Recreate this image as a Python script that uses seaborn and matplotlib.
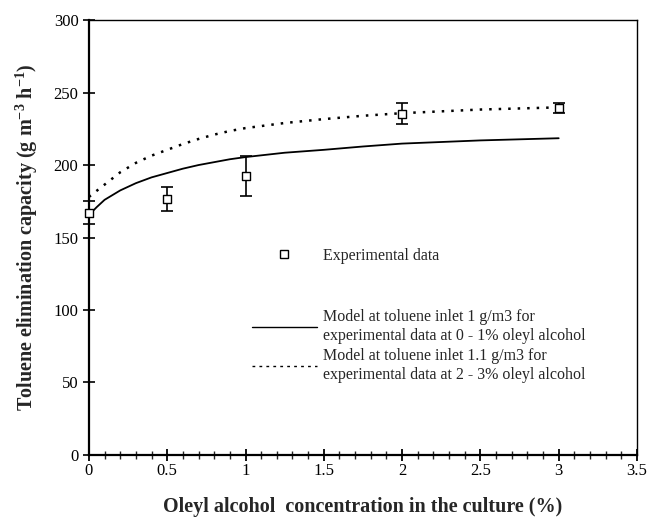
import numpy as np
import pandas as pd
import matplotlib
matplotlib.use("Agg")
import matplotlib.pyplot as plt
from matplotlib.lines import Line2D
import seaborn as sns

# Experimental points with standard deviations
exp_conc = [0.0, 0.5, 1.0, 2.0, 3.0]
exp_capacity = [167.0, 176.5, 192.5, 235.5, 239.5]
exp_err = [8.0, 8.5, 14.0, 7.5, 3.5]

# Model curve, toluene inlet 1 g/m3
model1_conc = [0.0, 0.05, 0.1, 0.2, 0.3, 0.4, 0.5, 0.6, 0.7, 0.8, 0.9, 1.0,
               1.25, 1.5, 1.75, 2.0, 2.5, 3.0]
model1_capacity = [165.5, 171.0, 176.0, 182.5, 187.5, 191.5, 194.5, 197.5, 200.0,
                   202.0, 204.0, 205.5, 208.5, 210.5, 212.8, 214.8, 217.0, 218.5]

# Model curve, toluene inlet 1.1 g/m3
model2_conc = [0.0, 0.1, 0.2, 0.3, 0.4, 0.5, 0.6, 0.7, 0.8, 0.9, 1.0,
               1.25, 1.5, 1.75, 2.0, 2.5, 3.0]
model2_capacity = [178.0, 186.5, 195.0, 201.5, 206.5, 210.5, 214.5, 218.0, 221.0,
                   223.5, 225.5, 229.0, 231.7, 234.0, 235.8, 238.3, 239.8]

x_ticks = [0, 0.5, 1, 1.5, 2, 2.5, 3, 3.5]
x_tick_labels = ["0", "0.5", "1", "1.5", "2", "2.5", "3", "3.5"]
y_ticks = [0, 50, 100, 150, 200, 250, 300]

sns.set_theme(style="white")
plt.rcParams["font.family"] = ["Liberation Serif", "DejaVu Serif"]
plt.rcParams["mathtext.fontset"] = "custom"
plt.rcParams["mathtext.rm"] = "Liberation Serif"
plt.rcParams["mathtext.bf"] = "Liberation Serif:bold"

fig = plt.figure(figsize=(6.49, 5.29), dpi=100)
ax = fig.add_axes([0.137, 0.140, 0.8445, 0.822])

df1 = pd.DataFrame({"conc": model1_conc, "cap": model1_capacity})
df2 = pd.DataFrame({"conc": model2_conc, "cap": model2_capacity})
dfe = pd.DataFrame({"conc": exp_conc, "cap": exp_capacity, "err": exp_err})

sns.lineplot(data=df1, x="conc", y="cap", ax=ax, color="black", lw=1.3,
             estimator=None, sort=False)
sns.lineplot(data=df2, x="conc", y="cap", ax=ax, color="black", lw=1.8,
             estimator=None, sort=False, dashes=False)
ax.lines[-1].set_linestyle((0, (1.0, 2.8)))

eb = ax.errorbar(dfe["conc"], dfe["cap"], yerr=dfe["err"], fmt="none",
                 ecolor="black", elinewidth=1.2, capsize=4, capthick=1.2, zorder=3)
for part in eb.get_children():
    part.set_clip_on(False)
sns.scatterplot(data=dfe, x="conc", y="cap", ax=ax, marker="s", s=40,
                facecolor="white", edgecolor="black", linewidth=1.0, zorder=4,
                clip_on=False)

ax.set_xlim(0, 3.5)
ax.set_ylim(0, 300)
ax.set_xticks(x_ticks)
ax.set_xticklabels(x_tick_labels)
ax.set_xticks(np.arange(0, 3.51, 0.1), minor=True)
ax.set_yticks(y_ticks)

for side in ["left", "bottom", "top", "right"]:
    ax.spines[side].set_visible(True)
    ax.spines[side].set_color("black")
ax.spines["left"].set_linewidth(1.6)
ax.spines["bottom"].set_linewidth(1.6)
ax.spines["top"].set_linewidth(1.0)
ax.spines["right"].set_linewidth(1.0)

ax.tick_params(axis="x", which="major", direction="inout", length=9, width=1.3,
               labelsize=12, pad=1.5, colors="black", bottom=True)
ax.tick_params(axis="x", which="minor", direction="inout", length=6, width=1.0,
               bottom=True)
ax.tick_params(axis="y", which="major", direction="inout", length=9, width=1.2,
               labelsize=12, pad=3, colors="black", left=True)

ax.set_xlabel("Oleyl alcohol  concentration in the culture (%)",
              fontsize=14.5, fontweight="bold", labelpad=13)
ax.set_ylabel(r"Toluene elimination capacity (g m$^{\mathbf{-3}}$ h$^{\mathbf{-1}}$)",
              fontsize=14.5, fontweight="bold", labelpad=10)

h_exp = Line2D([], [], marker="s", markersize=5.5, markerfacecolor="white",
               markeredgecolor="black", linestyle="none")
h_m1 = Line2D([], [], color="black", lw=1.0)
h_m2 = Line2D([], [], color="black", lw=1.0, linestyle=(0, (2, 3)))

leg1 = ax.legend([h_exp], ["Experimental data"], loc="center left",
                 bbox_to_anchor=(0.297, 0.458), frameon=False, fontsize=11.5,
                 handlelength=4.1, handletextpad=0.35, borderpad=0,
                 borderaxespad=0)
ax.add_artist(leg1)
ax.legend([h_m1, h_m2],
          ["Model at toluene inlet 1 g/m3 for\nexperimental data at 0 - 1% oleyl alcohol",
           "Model at toluene inlet 1.1 g/m3 for\nexperimental data at 2 - 3% oleyl alcohol"],
          loc="upper left", bbox_to_anchor=(0.297, 0.335), frameon=False,
          fontsize=11.5, handlelength=4.1, handletextpad=0.35, borderpad=0,
          borderaxespad=0, labelspacing=0.3)
for txt in ax.get_legend().get_texts():
    txt.set_linespacing(1.2)

fig.savefig("out.png", dpi=100)
